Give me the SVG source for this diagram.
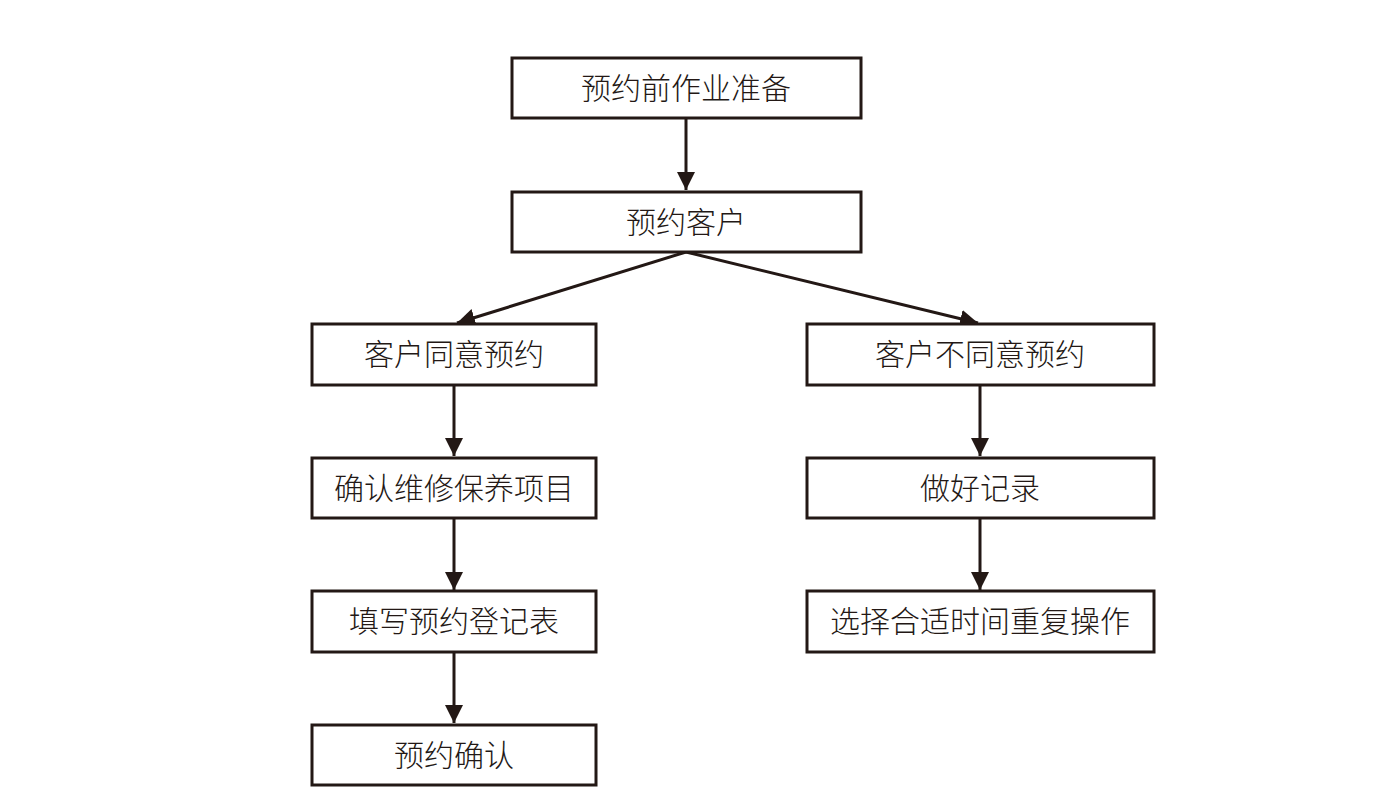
<svg xmlns="http://www.w3.org/2000/svg" width="1373" height="807" viewBox="0 0 1373 807">
<style>
.box{fill:#fff;stroke:#231815;stroke-width:3}
.t{font-family:"Liberation Serif","Noto Sans CJK SC",serif;font-size:30px;font-weight:300;fill:#231815;text-anchor:middle;dominant-baseline:central}
.c{stroke:#231815;stroke-width:3;fill:none;marker-end:url(#ah)}
</style>
<defs>
<marker id="ah" markerWidth="6" markerHeight="6" refX="6" refY="3" orient="auto" markerUnits="strokeWidth"><path d="M0,0 L6,3 L0,6 Z" fill="#231815"/></marker>
</defs>
<rect width="1373" height="807" fill="#fff"/>
<g id="connectors">
<line class="c" x1="686" y1="118" x2="686" y2="190"/>
<line class="c" x1="686" y1="252" x2="457" y2="323"/>
<line class="c" x1="686" y1="252" x2="978" y2="323"/>
<line class="c" x1="454" y1="385" x2="454" y2="456"/>
<line class="c" x1="454" y1="518" x2="454" y2="590"/>
<line class="c" x1="454" y1="652" x2="454" y2="723"/>
<line class="c" x1="980" y1="385" x2="980" y2="456"/>
<line class="c" x1="980" y1="518" x2="980" y2="590"/>
</g>
<g id="n1"><rect class="box" x="512" y="58" width="349" height="60"/><text class="t" x="686" y="88">预约前作业准备</text></g>
<g id="n2"><rect class="box" x="512" y="192" width="349" height="60"/><text class="t" x="686" y="222">预约客户</text></g>
<g id="n3"><rect class="box" x="312" y="324" width="284" height="61"/><text class="t" x="454" y="354">客户同意预约</text></g>
<g id="n4"><rect class="box" x="807" y="324" width="347" height="61"/><text class="t" x="980" y="354">客户不同意预约</text></g>
<g id="n5"><rect class="box" x="312" y="458" width="284" height="60"/><text class="t" x="454" y="488">确认维修保养项目</text></g>
<g id="n6"><rect class="box" x="807" y="458" width="347" height="60"/><text class="t" x="980" y="488">做好记录</text></g>
<g id="n7"><rect class="box" x="312" y="591" width="284" height="61"/><text class="t" x="454" y="621">填写预约登记表</text></g>
<g id="n8"><rect class="box" x="807" y="591" width="347" height="61"/><text class="t" x="980" y="621">选择合适时间重复操作</text></g>
<g id="n9"><rect class="box" x="312" y="725" width="284" height="60"/><text class="t" x="454" y="755">预约确认</text></g>
</svg>
